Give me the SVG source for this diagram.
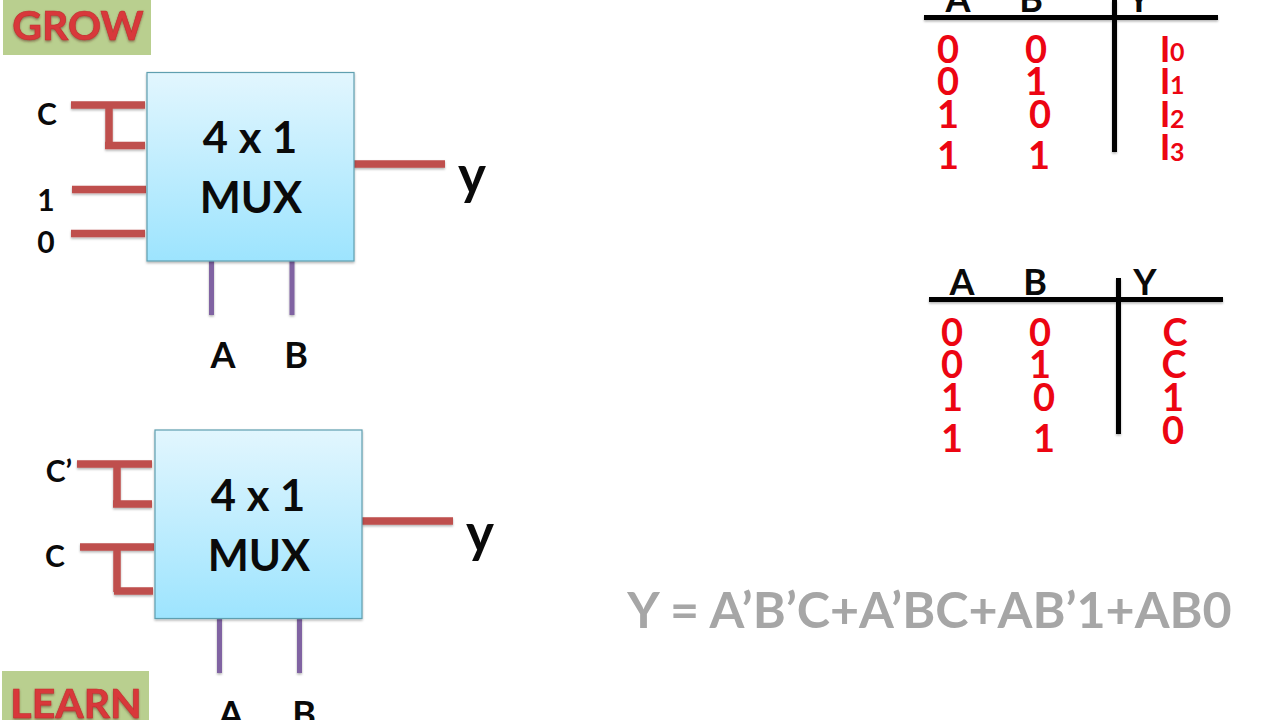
<svg xmlns="http://www.w3.org/2000/svg" width="1280" height="720" viewBox="0 0 1280 720">
<style>
text{font-family:"Lato","Open Sans","Liberation Sans",sans-serif;font-weight:700}
.k{fill:#0a0a0a}
.m{font-size:43.500px;text-anchor:middle}
.s{font-size:36px;text-anchor:middle}
.l{font-size:30px;text-anchor:middle}
.r{fill:#ec0512;font-size:38px;text-anchor:middle}
.i{fill:#ec0512;font-size:36px;text-anchor:middle}
.r2{fill:#ec0512;font-size:25px;text-anchor:start}
.box{fill:url(#g);stroke:#5f9fb0;stroke-width:1.2;filter:url(#sh)}
.red{stroke:#bf504d;stroke-width:7.5;fill:none;filter:url(#sh)}
.pur{stroke:#8064a2;stroke-width:5;fill:none;filter:url(#sh)}
.blk{stroke:#050505;stroke-width:5;fill:none;filter:url(#sh)}
.badge{fill:#b9cf8f}
.bt{fill:#d8393a;font-size:41px;text-anchor:middle;stroke:#c22f2f;stroke-width:.6;filter:url(#bs)}
</style>
<defs>
<linearGradient id="g" x1="0" y1="0" x2="0" y2="1"><stop offset="0" stop-color="#e2f6fe"/><stop offset="1" stop-color="#9de4fe"/></linearGradient>
<filter id="sh" x="-20%" y="-20%" width="140%" height="140%"><feDropShadow dx="0" dy="1.5" stdDeviation="1.2" flood-color="#000" flood-opacity=".3"/></filter>
<filter id="bs" x="-10%" y="-10%" width="120%" height="130%"><feDropShadow dx="0" dy="1.5" stdDeviation="1" flood-color="#5a2a20" flood-opacity=".55"/></filter>
</defs>
<rect width="1280" height="720" fill="#fff"/>

<g id="badge-grow"><rect class="badge" x="3" y="0" width="148" height="55"/><text class="bt" x="78" y="40">GROW</text></g>
<g id="badge-learn"><rect class="badge" x="2" y="671" width="147" height="49"/><text class="bt" x="76" y="718">LEARN</text></g>

<g id="connectors">
<path class="red" d="M71 105H145M109 105V146M105 145.500H145M72 189.500H146M71 233.500H145M354 164H445"/>
<path class="pur" d="M211.500 255V315M292 255V315"/>
<path class="red" d="M77 464H152M117 464V505M113 504H152M80 547H154M117 547V592M114 591H153M362 521H453"/>
<path class="pur" d="M219.500 613V673M299.500 613V673"/>
<path class="blk" d="M924 17.500H1218M1114.500 0V152"/>
<path class="blk" d="M929 299.500H1223M1118.500 278V434"/>
</g>

<g id="mux-1"><rect class="box" x="147" y="72.500" width="207" height="188.500"/><text class="k m" x="250" y="153">4 x 1</text><text class="k m" x="251" y="213">MUX</text></g>
<g id="mux-2"><rect class="box" x="155" y="430" width="207" height="188.500"/><text class="k m" x="258" y="511">4 x 1</text><text class="k m" x="259" y="571">MUX</text></g>

<g id="labels-1">
<text class="k l" x="47" y="125">C</text><text class="k l" x="46" y="211">1</text><text class="k l" x="46" y="253">0</text>
<text class="k" x="472" y="194" font-size="53" text-anchor="middle">y</text>
<text class="k s" x="223" y="368">A</text><text class="k s" x="296" y="368">B</text>
</g>
<g id="labels-2">
<text class="k l" x="59" y="482">C’</text><text class="k l" x="55" y="567">C</text>
<text class="k" x="480" y="552" font-size="53" text-anchor="middle">y</text>
<text class="k s" x="231" y="727">A</text><text class="k s" x="304" y="727">B</text>
</g>

<g id="table-1">
<text class="k s" x="958" y="12">A</text><text class="k s" x="1031" y="12">B</text><text class="k s" x="1139" y="12">Y</text>
<text class="r" x="948" y="63">0</text><text class="r" x="1036" y="63">0</text>
<text class="r" x="948" y="95">0</text><text class="r" x="1036" y="95">1</text>
<text class="r" x="948" y="128">1</text><text class="r" x="1040" y="128">0</text>
<text class="r" x="948" y="169">1</text><text class="r" x="1039" y="169">1</text>
<text class="i" x="1165" y="62">I</text><text class="r2" x="1170" y="61">0</text>
<text class="i" x="1165" y="94">I</text><text class="r2" x="1170" y="94">1</text>
<text class="i" x="1165" y="127">I</text><text class="r2" x="1170" y="128">2</text>
<text class="i" x="1165" y="160">I</text><text class="r2" x="1170" y="161">3</text>
</g>
<g id="table-2">
<text class="k s" x="962" y="295">A</text><text class="k s" x="1035" y="295">B</text><text class="k s" x="1145" y="295">Y</text>
<text class="r" x="952" y="346">0</text><text class="r" x="1040" y="346">0</text>
<text class="r" x="952" y="378">0</text><text class="r" x="1040" y="378">1</text>
<text class="r" x="952" y="411">1</text><text class="r" x="1044" y="411">0</text>
<text class="r" x="952" y="452">1</text><text class="r" x="1044" y="452">1</text>
<text class="r" x="1175" y="346">C</text><text class="r" x="1174" y="378">C</text><text class="r" x="1173" y="411">1</text><text class="r" x="1173" y="444">0</text>
</g>

<g id="equation"><text x="929.500" y="628" font-size="50.200" text-anchor="middle" fill="#a6a6a6">Y = A’B’C+A’BC+AB’1+AB0</text></g>
</svg>
